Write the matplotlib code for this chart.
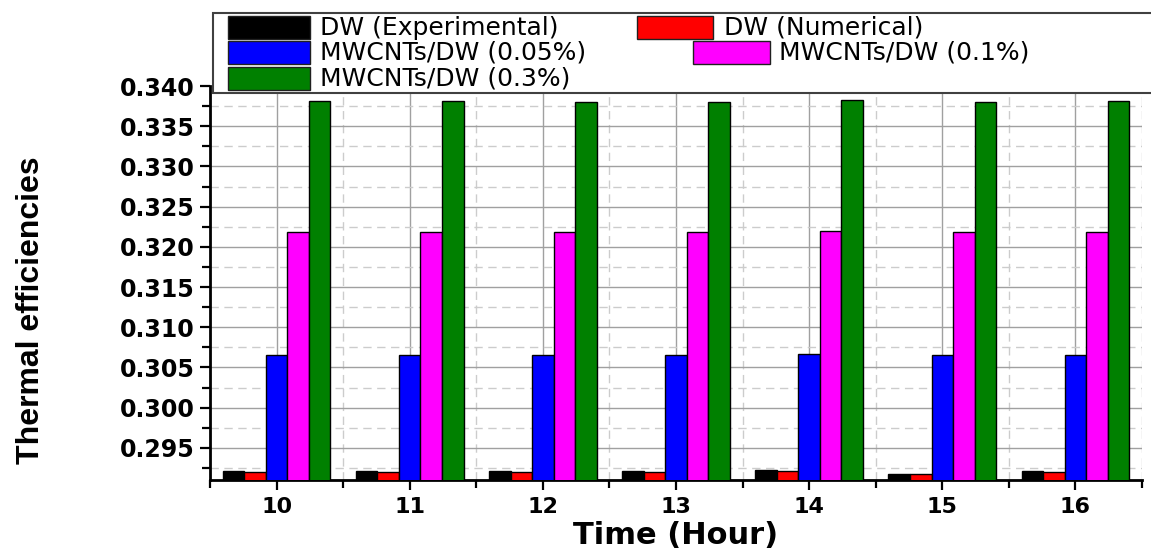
import numpy as np
import matplotlib
matplotlib.use("Agg")
import matplotlib.pyplot as plt
from matplotlib.patches import Rectangle
from matplotlib.ticker import MultipleLocator, FormatStrFormatter

# data
hours = [10, 11, 12, 13, 14, 15, 16]
dw_exp = [0.2921, 0.2921, 0.2921, 0.2921, 0.2922, 0.2918, 0.2921]
dw_num = [0.2920, 0.2920, 0.2920, 0.2920, 0.2921, 0.2917, 0.2920]
mw_005 = [0.3066, 0.3066, 0.3065, 0.3065, 0.3067, 0.3065, 0.3066]
mw_01 = [0.3219, 0.3219, 0.3218, 0.3219, 0.3220, 0.3218, 0.3218]
mw_03 = [0.3381, 0.3381, 0.3380, 0.3380, 0.3382, 0.3380, 0.3381]

labels = ["DW (Experimental)", "DW (Numerical)", "MWCNTs/DW (0.05%)",
          "MWCNTs/DW (0.1%)", "MWCNTs/DW (0.3%)"]
colors = ["#000000", "#ff0000", "#0000ff", "#ff00ff", "#008000"]
series = [dw_exp, dw_num, mw_005, mw_01, mw_03]

W, H = 1151, 549
fig = plt.figure(figsize=(W / 100, H / 100), dpi=100)
ax = fig.add_axes([210 / W, 1 - 480 / H, 932 / W, 394 / H])

# bars
x = np.array(hours, dtype=float)
bw = 0.162
for i, (vals, c) in enumerate(zip(series, colors)):
    ax.bar(x + (i - 2) * bw, vals, width=bw, color=c, edgecolor="black",
           linewidth=1.0, zorder=3)

ax.set_xlim(9.5, 16.5)
ax.set_ylim(0.291, 0.340)

ax.xaxis.set_major_locator(MultipleLocator(1))
ax.xaxis.set_minor_locator(MultipleLocator(0.5))
ax.yaxis.set_major_locator(MultipleLocator(0.005))
ax.yaxis.set_minor_locator(MultipleLocator(0.0025))
ax.yaxis.set_major_formatter(FormatStrFormatter("%.3f"))
ax.set_yticks(np.arange(0.295, 0.3401, 0.005))

# grid
ax.set_axisbelow(True)
ax.grid(which="major", color="#a0a0a0", linewidth=1.0, linestyle="-")
ax.grid(which="minor", color="#cccccc", linewidth=1.0, linestyle=(0, (6, 4)))

for side in ["top", "right"]:
    ax.spines[side].set_visible(False)
for side in ["left", "bottom"]:
    ax.spines[side].set_linewidth(2.0)

ax.tick_params(which="major", direction="out", length=7, width=1.6, pad=4)
ax.tick_params(which="minor", direction="out", length=6, width=1.6)
ax.tick_params(axis="x", which="major", pad=5)
for lab in ax.get_yticklabels():
    lab.set_fontfamily("DejaVu Sans")
    lab.set_fontweight("bold")
    lab.set_fontsize(17)
for lab in ax.get_xticklabels():
    lab.set_fontfamily("DejaVu Sans")
    lab.set_fontweight("bold")
    lab.set_fontsize(16)

fig.text(676 / W, 1 - 535 / H, "Time (Hour)", ha="center", va="center",
         fontsize=22, fontweight="bold", family="DejaVu Sans")
fig.text(31 / W, 1 - 310 / H, "Thermal efficiencies", ha="center",
         va="center", rotation=90, fontsize=23, fontweight="bold",
         family="Liberation Sans")

# legend laid out like the original (flowing rows)
def px_rect(x0, y0, x1, y1, **kw):
    return Rectangle((x0 / W, 1 - y1 / H), (x1 - x0) / W, (y1 - y0) / H,
                     transform=fig.transFigure, **kw)

fig.patches.append(px_rect(213, 13, 1170, 93, facecolor="white",
                           edgecolor="#404040", linewidth=1.5, zorder=5))

rows = [(16, 39), (41, 64), (67, 90)]
entries = [  # (series index, row, handle x0, handle x1, text x)
    (0, 0, 228, 310, 320),
    (1, 0, 637, 713, 724),
    (2, 1, 228, 310, 320),
    (3, 1, 693, 770, 779),
    (4, 2, 228, 310, 320),
]
for idx, r, hx0, hx1, tx in entries:
    y0, y1 = rows[r]
    fig.patches.append(px_rect(hx0, y0, hx1, y1, facecolor=colors[idx],
                               edgecolor="#202020", linewidth=1.0, zorder=6))
    fig.text(tx / W, 1 - (y0 + y1) / 2 / H, labels[idx], ha="left",
             va="center", fontsize=18, family="DejaVu Sans", zorder=7)

fig.savefig("out.png", dpi=100)
